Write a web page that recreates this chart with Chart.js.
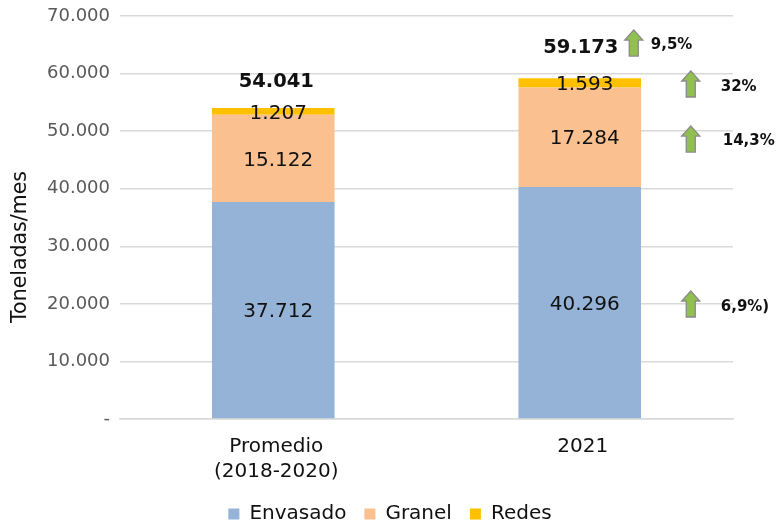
<!DOCTYPE html>
<html>
<head>
<meta charset="utf-8">
<script src="https://cdn.jsdelivr.net/npm/chart.js@4"></script>
<style>
  html, body { margin: 0; padding: 0; background: #fff; }
  canvas { display: block; }
</style>
</head>
<body>
<canvas id="myChart" width="780" height="523"></canvas>
<script>
const categories = [["Promedio", "(2018-2020)"], "2021"];
const envasado = [37712, 40296];
const granel = [15122, 17284];
const redes = [1207, 1593];
const totals = [54041, 59173];
const yTickLabels = ["-", "10.000", "20.000", "30.000", "40.000", "50.000", "60.000", "70.000"];
const yTitle = "Toneladas/mes";

// growth arrows next to the 2021 bar
const growthLabels = ["6,9%)", "14,3%", "32%", "9,5%"];
const growthLevels = [19975, 48630, 58190, 65300];

const fontName = "'DejaVu Sans', sans-serif";
const fmt = (v) => String(v).replace(/\B(?=(\d{3})+$)/g, ".");

function drawArrow(ctx, x, top) {
  ctx.beginPath();
  ctx.moveTo(x, top);
  ctx.lineTo(x + 9, top + 10);
  ctx.lineTo(x + 4.5, top + 10);
  ctx.lineTo(x + 4.5, top + 26);
  ctx.lineTo(x - 4.5, top + 26);
  ctx.lineTo(x - 4.5, top + 10);
  ctx.lineTo(x - 9, top + 10);
  ctx.closePath();
  ctx.fillStyle = "#92c050";
  ctx.fill();
  ctx.strokeStyle = "#8a8a8a";
  ctx.lineWidth = 1.3;
  ctx.stroke();
}

const labelsPlugin = {
  id: "barLabels",
  afterLayout(chart) {
    // legend is centred on the whole picture, not on the padded area
    chart.legend.left += 18.5;
    chart.legend.right += 18.5;
  },
  afterDatasetsDraw(chart) {
    const ctx = chart.ctx;
    const yScale = chart.scales.y;
    ctx.save();
    ctx.textAlign = "center";
    ctx.textBaseline = "middle";
    ctx.fillStyle = "#111";
    ctx.font = "20px " + fontName;
    chart.data.datasets.forEach((ds, d) => {
      chart.getDatasetMeta(d).data.forEach((bar, i) => {
        const mid = (bar.y + bar.base) / 2;
        ctx.fillText(fmt(ds.data[i]), bar.x + 5, mid + 2);
      });
    });
    ctx.font = "bold 19.5px " + fontName;
    const top = chart.getDatasetMeta(2).data;
    ctx.fillText(fmt(totals[0]), top[0].x + 3, top[0].y - 26);
    ctx.fillText(fmt(totals[1]), top[1].x + 1, top[1].y - 30);

    // axis title sits lower than the middle of the axis
    ctx.save();
    ctx.translate(21, 247);
    ctx.rotate(-Math.PI / 2);
    ctx.font = "20.5px " + fontName;
    ctx.fillText(yTitle, 0, 0);
    ctx.restore();

    // arrows and percentages
    ctx.font = "bold 15px " + fontName;
    ctx.textAlign = "left";
    growthLabels.forEach((txt, i) => {
      const last = i === growthLabels.length - 1;
      const y = yScale.getPixelForValue(growthLevels[i]);
      const ax = last ? top[1].x + 54 : top[1].x + 111;
      drawArrow(ctx, ax, y - 13);
      ctx.fillStyle = "#111";
      let tx = last ? ax + 17 : ax + 30;
      if (i === 1) tx = ax + 32;
      ctx.fillText(txt, tx, y + (i % 2 === 0 ? 3 : 2));
    });
    ctx.restore();
  },
};

new Chart(document.getElementById("myChart"), {
  type: "bar",
  data: {
    labels: categories,
    datasets: [
      { label: "Envasado", data: envasado, backgroundColor: "#95b3d7" },
      { label: "Granel", data: granel, backgroundColor: "#fac090" },
      { label: "Redes", data: redes, backgroundColor: "#ffc000" },
    ],
  },
  plugins: [labelsPlugin],
  options: {
    responsive: false,
    animation: false,
    layout: { padding: { top: 0, right: 47, left: 10, bottom: -11 } },
    datasets: { bar: { categoryPercentage: 0.4, barPercentage: 1 } },
    plugins: {
      tooltip: { enabled: false },
      legend: {
        position: "bottom",
        labels: {
          boxWidth: 11,
          boxHeight: 11,
          padding: 18,
          color: "#111",
          font: { size: 20, family: fontName },
        },
      },
    },
    scales: {
      x: {
        stacked: true,
        grid: { display: false },
        border: { color: "#d9d9d9", width: 1.5 },
        afterFit(axis) {
          axis.height = 67;
        },
        ticks: {
          color: "#111",
          padding: 7,
          labelOffset: 3,
          maxRotation: 0,
          font: { size: 20, family: fontName, lineHeight: 1.25 },
        },
      },
      y: {
        stacked: true,
        min: 0,
        max: 70000,
        afterBuildTicks(axis) {
          axis.ticks = yTickLabels.map((_, i) => ({ value: i * 10000 }));
        },
        afterFit(axis) {
          axis.width = 110;
          axis.paddingTop = 16;
        },
        grid: { color: "#d9d9d9", lineWidth: 1.5, drawTicks: false },
        border: { display: false },
        ticks: {
          color: "#595959",
          padding: 10,
          font: { size: 18, family: fontName },
          callback: (v, i) => yTickLabels[i],
        },
      },
    },
  },
});
</script>
</body>
</html>
